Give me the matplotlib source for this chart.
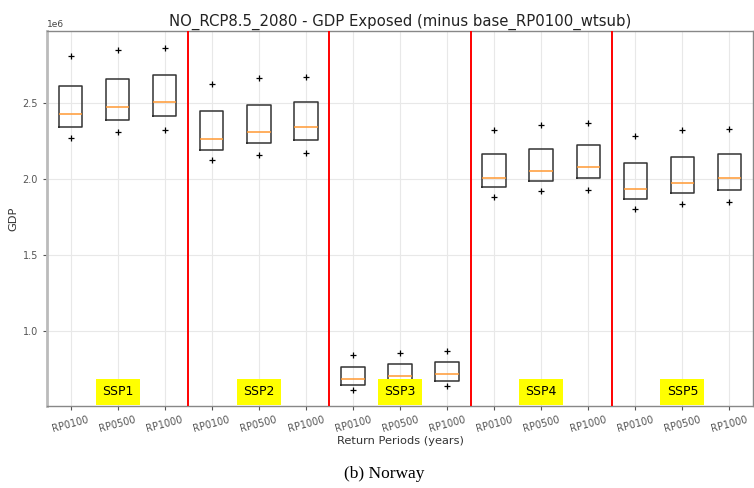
import matplotlib
matplotlib.use("Agg")
import matplotlib.pyplot as plt

# scenarios and return periods
scenarios = ["SSP1", "SSP2", "SSP3", "SSP4", "SSP5"]
return_periods = ["RP0100", "RP0500", "RP1000"]

# box stats per box (in 1e6 GDP), order: SSP1 RP0100, RP0500, RP1000, SSP2 ...
q1 = [2.344, 2.386, 2.412, 2.191, 2.235, 2.255, 0.645, 0.655, 0.673,
      1.945, 1.987, 2.007, 1.868, 1.906, 1.926]
med = [2.426, 2.472, 2.505, 2.265, 2.307, 2.340, 0.682, 0.704, 0.719,
       2.009, 2.055, 2.081, 1.932, 1.976, 2.005]
q3 = [2.614, 2.656, 2.682, 2.445, 2.487, 2.509, 0.763, 0.781, 0.794,
      2.166, 2.199, 2.224, 2.107, 2.143, 2.164]
flier_hi = [2.809, 2.847, 2.864, 2.625, 2.663, 2.673, 0.842, 0.855, 0.867,
            2.324, 2.355, 2.366, 2.281, 2.320, 2.329]
flier_lo = [2.272, 2.309, 2.324, 2.125, 2.160, 2.169, 0.614, 0.625, 0.638,
            1.880, 1.919, 1.928, 1.801, 1.838, 1.849]

stats = []
for i in range(len(med)):
    stats.append({
        "q1": q1[i] * 1e6, "med": med[i] * 1e6, "q3": q3[i] * 1e6,
        "whislo": q1[i] * 1e6, "whishi": q3[i] * 1e6,
        "fliers": [flier_lo[i] * 1e6, flier_hi[i] * 1e6],
    })

labels = return_periods * len(scenarios)
positions = list(range(1, len(stats) + 1))

fig = plt.figure(figsize=(7.54, 4.88), dpi=100)
ax = fig.add_axes([0.0623, 0.168, 0.9364, 0.7685])

ax.bxp(stats, positions=positions, widths=0.5, showcaps=False,
       boxprops=dict(color="#333333", lw=1.1),
       whiskerprops=dict(color="#333333", lw=1.1),
       medianprops=dict(color="#ff9933", lw=1.1),
       flierprops=dict(marker="+", markeredgecolor="black", markersize=5,
                       markeredgewidth=0.9, linestyle="none"))

# separators between scenarios
for k in range(1, len(scenarios)):
    ax.axvline(3 * k + 0.5, color="red", lw=1.4, zorder=3)

# scenario labels
for k, s in enumerate(scenarios):
    ax.text(3 * k + 2, 0.6e6, s, ha="center", va="center", fontsize=9,
            bbox=dict(facecolor="yellow", edgecolor="none", pad=4.5), zorder=4)

ax.set_xlim(0.5, 15.5)
ax.set_ylim(0.507e6, 2.974e6)
ax.set_xticks(positions)
ax.set_xticklabels(labels, rotation=15, fontsize=7, color="#444444")
ax.set_yticks([1.0e6, 1.5e6, 2.0e6, 2.5e6])
ax.tick_params(axis="y", labelsize=7, labelcolor="#444444")
ax.tick_params(colors="#555555", length=3)
ax.yaxis.get_offset_text().set_fontsize(6.5)
ax.yaxis.get_offset_text().set_color("#444444")

ax.grid(True, color="#e8e8e8", lw=0.8)
ax.set_axisbelow(True)
for sp in ax.spines.values():
    sp.set_color("#888888")
    sp.set_linewidth(1.0)
ax.spines["left"].set_color("#bbbbbb")
ax.spines["left"].set_linewidth(2.0)

ax.set_title("NO_RCP8.5_2080 - GDP Exposed (minus base_RP0100_wtsub)",
             fontsize=10.7, color="#222222", pad=4)
ax.set_xlabel("Return Periods (years)", fontsize=8.2, color="#333333", labelpad=1)
ax.set_ylabel("GDP", fontsize=8.2, color="#333333")
ax.yaxis.set_label_coords(-0.04, 0.5)

fig.text(0.51, 0.028, "(b) Norway", ha="center", va="center", fontsize=12.5,
         family="Liberation Serif")

fig.savefig("out.png", dpi=100)
